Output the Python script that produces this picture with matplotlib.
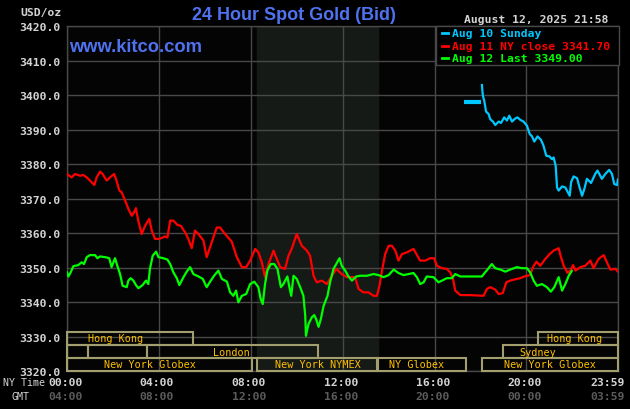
import numpy as np
import matplotlib
matplotlib.use("Agg")
import matplotlib.pyplot as plt
from matplotlib.patches import Rectangle
from matplotlib.lines import Line2D

# hours (NY time) / bid price pairs
aug10 = np.array([
    (18.06, 3402.9), (18.10, 3399.8), (18.16, 3398.4), (18.24, 3395.2), (18.35, 3394.5),
    (18.42, 3393.0), (18.54, 3392.3), (18.64, 3391.3), (18.79, 3392.3), (18.89, 3391.9),
    (19.03, 3393.5), (19.15, 3392.6), (19.25, 3394.0), (19.37, 3392.3), (19.51, 3393.2),
    (19.61, 3393.5), (19.73, 3392.8), (19.87, 3392.3), (20.02, 3391.1), (20.14, 3388.7),
    (20.24, 3388.0), (20.34, 3386.5), (20.48, 3388.0), (20.63, 3387.0), (20.74, 3385.3),
    (20.86, 3382.4), (21.00, 3382.2), (21.11, 3381.4), (21.18, 3381.9), (21.27, 3379.5),
    (21.33, 3373.2), (21.40, 3372.3), (21.55, 3373.5), (21.69, 3373.2), (21.88, 3370.8),
    (21.94, 3374.7), (22.05, 3376.4), (22.20, 3375.9), (22.31, 3373.2), (22.42, 3370.8),
    (22.52, 3372.8), (22.63, 3375.7), (22.81, 3374.5), (22.99, 3377.1), (23.09, 3378.1),
    (23.28, 3375.7), (23.43, 3377.1), (23.60, 3378.3), (23.72, 3377.1), (23.82, 3374.2),
    (23.94, 3373.9), (23.98, 3375.5),
])
aug10_open = np.array([(17.29, 3397.9), (18.03, 3397.9)])

aug11 = np.array([
    (0.00, 3377.1), (0.20, 3376.1), (0.35, 3377.1), (0.57, 3376.6), (0.71, 3376.8),
    (0.86, 3376.1), (1.00, 3375.2), (1.19, 3373.9), (1.29, 3376.1), (1.44, 3377.8),
    (1.55, 3377.1), (1.73, 3375.2), (1.87, 3376.1), (2.05, 3377.1), (2.13, 3375.7),
    (2.28, 3372.3), (2.38, 3371.8), (2.53, 3369.4), (2.67, 3367.0), (2.82, 3365.0),
    (2.92, 3366.0), (3.00, 3367.2), (3.10, 3363.6), (3.25, 3359.7), (3.40, 3362.1),
    (3.58, 3364.1), (3.69, 3360.7), (3.83, 3358.3), (4.02, 3358.3), (4.27, 3359.0),
    (4.37, 3358.7), (4.49, 3363.6), (4.63, 3363.6), (4.81, 3362.3), (4.95, 3362.1),
    (5.14, 3360.2), (5.28, 3358.3), (5.43, 3355.6), (5.57, 3360.7), (5.72, 3359.7),
    (5.94, 3357.8), (6.08, 3353.0), (6.30, 3357.3), (6.52, 3361.6), (6.66, 3361.6),
    (6.88, 3359.7), (7.17, 3357.5), (7.39, 3353.0), (7.61, 3350.1), (7.80, 3350.1),
    (7.97, 3352.0), (8.19, 3355.4), (8.33, 3354.4), (8.48, 3351.5), (8.62, 3347.2),
    (8.77, 3351.0), (8.99, 3354.9), (9.10, 3353.0), (9.28, 3350.1), (9.49, 3349.6),
    (9.64, 3353.4), (9.78, 3355.4), (10.00, 3359.7), (10.22, 3356.3), (10.44, 3354.9),
    (10.58, 3353.4), (10.73, 3347.6), (10.87, 3345.7), (11.09, 3346.2), (11.31, 3345.2),
    (11.53, 3347.6), (11.72, 3349.6), (11.96, 3348.1), (12.18, 3347.2), (12.54, 3347.2),
    (12.69, 3343.8), (12.90, 3342.8), (13.12, 3342.8), (13.34, 3341.8), (13.49, 3341.8),
    (13.60, 3344.7), (13.71, 3349.1), (13.85, 3353.9), (14.00, 3356.3), (14.14, 3356.3),
    (14.29, 3354.9), (14.43, 3352.0), (14.58, 3353.9), (14.80, 3354.4), (15.08, 3355.4),
    (15.37, 3352.0), (15.59, 3352.0), (15.81, 3352.7), (15.98, 3352.7), (16.10, 3350.5),
    (16.32, 3349.8), (16.53, 3349.6), (16.68, 3348.6), (16.80, 3346.7), (16.90, 3343.3),
    (17.12, 3342.0), (17.55, 3342.0), (18.13, 3341.8), (18.28, 3343.8), (18.42, 3344.3),
    (18.64, 3343.6), (18.79, 3342.3), (18.97, 3342.6), (19.12, 3345.7), (19.29, 3346.2),
    (19.58, 3346.7), (19.73, 3346.9), (19.90, 3347.4), (20.16, 3347.8), (20.28, 3350.1),
    (20.43, 3351.7), (20.60, 3350.5), (20.82, 3352.5), (21.01, 3353.9), (21.18, 3354.9),
    (21.40, 3355.6), (21.50, 3353.0), (21.62, 3350.5), (21.79, 3348.4), (21.91, 3349.1),
    (22.03, 3350.7), (22.13, 3349.1), (22.34, 3350.1), (22.56, 3350.5), (22.78, 3352.0),
    (22.92, 3349.8), (23.14, 3352.5), (23.36, 3353.6), (23.50, 3351.5), (23.65, 3349.4),
    (23.87, 3349.6), (23.98, 3348.8),
])

aug12 = np.array([
    (0.00, 3348.6), (0.06, 3347.4), (0.16, 3348.6), (0.28, 3350.4), (0.49, 3350.7),
    (0.64, 3351.5), (0.74, 3351.0), (0.86, 3353.0), (1.00, 3353.6), (1.22, 3353.6),
    (1.32, 3352.7), (1.44, 3353.2), (1.66, 3353.0), (1.84, 3352.7), (1.94, 3350.1),
    (2.09, 3352.7), (2.19, 3350.5), (2.31, 3348.1), (2.42, 3344.7), (2.60, 3344.3),
    (2.67, 3346.2), (2.77, 3346.9), (2.89, 3346.2), (3.00, 3344.9), (3.11, 3344.0),
    (3.29, 3344.9), (3.44, 3346.2), (3.54, 3345.2), (3.61, 3349.6), (3.73, 3353.4),
    (3.88, 3354.6), (3.98, 3353.0), (4.19, 3352.7), (4.37, 3352.3), (4.49, 3351.0),
    (4.63, 3348.6), (4.78, 3346.9), (4.89, 3344.9), (5.07, 3347.2), (5.21, 3348.8),
    (5.36, 3350.1), (5.50, 3348.1), (5.72, 3347.4), (5.91, 3346.7), (6.08, 3344.3),
    (6.23, 3345.9), (6.40, 3347.6), (6.59, 3349.1), (6.74, 3346.7), (6.96, 3345.9),
    (7.10, 3342.8), (7.24, 3341.8), (7.36, 3343.3), (7.46, 3339.9), (7.61, 3341.8),
    (7.80, 3342.3), (7.97, 3345.2), (8.15, 3345.9), (8.33, 3344.3), (8.43, 3340.9),
    (8.52, 3339.4), (8.62, 3345.2), (8.72, 3349.1), (8.87, 3351.0), (9.02, 3351.0),
    (9.16, 3349.6), (9.31, 3344.3), (9.42, 3345.2), (9.59, 3347.4), (9.68, 3344.3),
    (9.76, 3341.8), (9.86, 3347.6), (10.00, 3346.7), (10.15, 3344.3), (10.29, 3341.8),
    (10.37, 3336.0), (10.40, 3330.2), (10.51, 3333.6), (10.66, 3335.6), (10.76, 3336.2),
    (10.84, 3335.1), (10.95, 3332.8), (11.05, 3335.1), (11.17, 3338.9), (11.34, 3341.8),
    (11.45, 3345.7), (11.60, 3349.6), (11.72, 3351.0), (11.86, 3352.7), (11.96, 3350.5),
    (12.11, 3349.1), (12.25, 3347.4), (12.40, 3346.2), (12.59, 3347.4), (12.76, 3347.6),
    (13.05, 3347.6), (13.34, 3348.1), (13.56, 3347.8), (13.78, 3347.2), (14.00, 3347.8),
    (14.22, 3349.4), (14.43, 3348.4), (14.65, 3347.8), (14.87, 3348.1), (15.08, 3348.4),
    (15.23, 3347.2), (15.37, 3345.2), (15.52, 3345.7), (15.66, 3347.4), (15.95, 3347.2),
    (16.17, 3345.7), (16.53, 3346.9), (16.75, 3346.9), (16.90, 3348.1), (17.12, 3347.4),
    (18.06, 3347.4), (18.20, 3348.6), (18.35, 3349.8), (18.49, 3351.0), (18.64, 3349.8),
    (18.86, 3349.4), (19.08, 3348.8), (19.29, 3349.4), (19.58, 3350.1), (19.80, 3349.8),
    (20.02, 3349.8), (20.16, 3348.6), (20.31, 3346.2), (20.45, 3344.7), (20.67, 3345.2),
    (20.89, 3344.3), (21.06, 3343.0), (21.21, 3344.3), (21.40, 3347.2), (21.55, 3343.3),
    (21.69, 3345.2), (21.84, 3347.6), (21.97, 3349.0),
])

tick_hours = [0, 4, 8, 12, 16, 20, 23.983]
ny_labels = ["00:00", "04:00", "08:00", "12:00", "16:00", "20:00", "23:59"]
gmt_labels = ["04:00", "08:00", "12:00", "16:00", "20:00", "00:00", "03:59"]
price_ticks = np.arange(3320, 3421, 10)

legend_labels = ["Aug 10 Sunday", "Aug 11 NY close 3341.70", "Aug 12 Last 3349.00"]

# trading sessions: row (0 = top), start hour, end hour, label, label hour
sessions = [
    (0, 0.0, 5.49, "Hong Kong", 2.1),
    (0, 20.5, 24.0, "Hong Kong", 22.1),
    (1, 0.0, 0.91, "", 0),
    (1, 0.91, 3.48, "", 0),
    (1, 3.48, 10.93, "London", 7.15),
    (1, 18.99, 24.0, "Sydney", 20.5),
    (2, 0.0, 8.05, "New York Globex", 3.63),
    (2, 8.25, 13.5, "New York NYMEX", 10.9),
    (2, 13.55, 17.38, "NY Globex", 15.2),
    (2, 18.08, 24.0, "New York Globex", 21.02),
]
nymex_hours = (8.25, 13.53)

CYAN = "#00c8ff"
RED = "#ff0000"
GREEN = "#00ff00"
GRID = "#484848"
LIGHT = "#d4d4d4"
DIM = "#5c5c5c"
BLUE = "#4f72f0"
BOX = "#a39e6e"
AMBER = "#ffc000"
MONO = "DejaVu Sans Mono"

W, H = 630, 410


def px(x, y):
    # pixel position -> figure fraction
    return x / W, 1 - y / H


fig = plt.figure(figsize=(6.3, 4.1), dpi=100, facecolor="black")
ax = fig.add_axes([67 / W, 1 - 372 / H, (618 - 67) / W, (372 - 27) / H])
ax.set_facecolor("#040404")
ax.set_xlim(0, 23.983)
ax.set_ylim(3320, 3420)

ax.set_xticks(tick_hours)
ax.set_xticklabels([])
ax.set_yticks(price_ticks)
ax.set_yticklabels(["%.1f" % v for v in price_ticks], color=LIGHT,
                   fontsize=8.2, family=MONO, weight="bold")
ax.tick_params(length=0, pad=5)
ax.grid(True, color=GRID, lw=1.0)
ax.set_axisbelow(True)
for s in ax.spines.values():
    s.set_color(GRID)
    s.set_linewidth(1.0)

ax.axvspan(nymex_hours[0], nymex_hours[1], color="#161a16", zorder=0)

# session boxes
row_tops = [3331.3, 3327.5, 3323.8]
row_h = 3.7
for row, t0, t1, name, lx in sessions:
    y0 = row_tops[row] - row_h
    ax.add_patch(Rectangle((t0, y0), t1 - t0, row_h, fill=False,
                           edgecolor=BOX, lw=1.5, zorder=3, clip_on=False))
    if name:
        ax.text(lx, y0 + row_h / 2, name, color=AMBER, fontsize=7.3,
                family=MONO, ha="center", va="center", zorder=4)

ax.plot(aug11[:, 0], aug11[:, 1], color=RED, lw=1.6, zorder=5)
ax.plot(aug12[:, 0], aug12[:, 1], color=GREEN, lw=1.6, zorder=6)
ax.plot(aug10_open[:, 0], aug10_open[:, 1], color=CYAN, lw=3.0,
        solid_capstyle="butt", zorder=5)
ax.plot(aug10[:, 0], aug10[:, 1], color=CYAN, lw=1.6, zorder=5)

# time axis labels
xt = ax.get_xaxis_transform()
for i, (h, a, b) in enumerate(zip(tick_hours, ny_labels, gmt_labels)):
    last = i == len(tick_hours) - 1
    ha = "right" if last else "center"
    hx = h + 0.3 if last else h - 0.08
    ax.text(hx, -0.032, a, transform=xt, color=LIGHT, fontsize=8.2,
            family=MONO, weight="bold", ha=ha, va="center")
    ax.text(hx, -0.072, b, transform=xt, color=DIM, fontsize=8.2,
            family=MONO, weight="bold", ha=ha, va="center")
fig.text(*px(3, 383), "NY Time", color=LIGHT, fontsize=7.2, family=MONO,
         va="center")
fig.text(*px(11, 397), "GMT", color=LIGHT, fontsize=7.2, family=MONO,
         va="center")

fig.text(*px(20, 13), "USD/oz", color=LIGHT, fontsize=8.2, family=MONO,
         weight="bold", va="center")
fig.text(*px(294, 15), "24 Hour Spot Gold (Bid)", color=BLUE, fontsize=13,
         family="Liberation Sans", weight="bold", ha="center", va="center")
fig.text(*px(608, 20), "August 12, 2025 21:58", color=LIGHT, fontsize=8.2,
         family=MONO, weight="bold", ha="right", va="center")
ax.text(0.003, 0.94, "www.kitco.com", transform=ax.transAxes, color=BLUE,
        fontsize=13.2, family="Liberation Sans", weight="bold", va="center",
        zorder=7)

# legend box
lx0, ly0 = px(436, 66)
lx1, ly1 = px(619, 27)
fig.patches.append(Rectangle((lx0, ly0), lx1 - lx0, ly1 - ly0,
                             transform=fig.transFigure, facecolor="black",
                             edgecolor=GRID, lw=1.0, zorder=10))
for i, (lab, col) in enumerate(zip(legend_labels, [CYAN, RED, GREEN])):
    yy = 34 + i * 12.5
    x0, y0 = px(442, yy)
    x1, _ = px(448, yy)
    fig.lines.append(Line2D([x0, x1], [y0, y0], transform=fig.transFigure,
                            color=col, lw=2, zorder=11))
    fig.text(*px(452, yy), lab, color=col, fontsize=8.2, family=MONO,
             weight="bold", va="center", zorder=11)

fig.savefig("out.png", dpi=100, facecolor="black")
